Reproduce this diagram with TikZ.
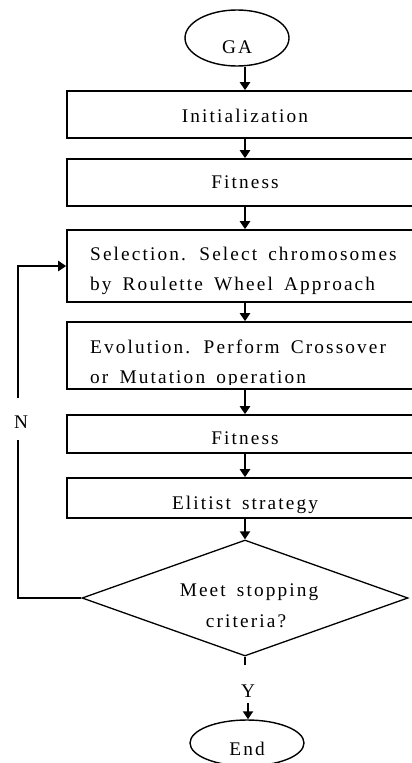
\documentclass[tikz,border=0pt]{standalone}
\usepackage{fontspec}
\setmainfont{Liberation Serif}[LetterSpace=11,WordSpace=1.6]
\usetikzlibrary{arrows.meta,shapes.geometric}
\begin{document}
\begin{tikzpicture}[x=1pt,y=-1pt,
  box/.style={draw,line width=1.6pt,rectangle,minimum width=356pt,inner sep=0pt},
  oval/.style={draw,line width=1.4pt,ellipse,inner sep=0pt},
  lbl/.style={inner sep=0pt,font=\fontsize{19.3}{30}\selectfont},
  arr/.style={line width=2.6pt,-{Triangle[width=10pt,length=8pt]}},
  ln/.style={line width=2.6pt,line join=miter}]
\useasboundingbox (0,0) rectangle (412,763);
\clip (0,0) rectangle (412,763);
% shapes
\node[oval,minimum width=104pt,minimum height=56pt] (ga) at (237,38) {};
\node[box,minimum height=47pt] (init) at (245,114.5) {};
\node[box,minimum height=47pt] (fit1) at (245,182.5) {};
\node[box,minimum height=72pt] (sel) at (245,266) {};
\node[box,minimum height=67pt] (evo) at (245,355.5) {};
\node[box,minimum height=38pt] (fit2) at (245,434) {};
\node[box,minimum height=40pt] (elit) at (245,498) {};
\node[draw,diamond,aspect=2.8,minimum width=326pt,minimum height=116pt,inner sep=0pt,line width=1.3pt] (dec) at (245,598) {};
\node[oval,minimum width=114pt,minimum height=46pt] (endn) at (247,743) {};
% texts
\node[lbl,anchor=base] (gat) at (ga.center |- 0,53) {GA};
\node[lbl,anchor=base] (initt) at (245,122) {Initialization};
\node[lbl,anchor=base] (fit1t) at (245,188) {Fitness};
\node[lbl,anchor=base west] (sela) at (90,260) {Selection. Select chromosomes};
\node[lbl,anchor=base west] (selb) at (90,290) {by Roulette Wheel Approach};
\node[lbl,anchor=base west] (evoa) at (90,353) {Evolution. Perform Crossover};
\begin{scope}
  \clip (67,322) rectangle (423,384);
  \node[lbl,anchor=base west] (evob) at (90,383) {or Mutation operation};
\end{scope}
\node[lbl,anchor=base] (fit2t) at (245,444) {Fitness};
\node[lbl,anchor=base] (elitt) at (245,509) {Elitist strategy};
\node[lbl,anchor=base] (deca) at (249,596) {Meet stopping};
\node[lbl,anchor=base] (decb) at (246,627) {criteria?};
\node[lbl,anchor=base] (endt) at (247,755) {End};
\node[lbl,anchor=base] (n) at (21,428) {N};
\node[lbl,anchor=base] (y) at (248,697) {Y};
% connectors
\draw[arr] (init.north |- ga.south) -- (init.north);
\draw[arr] (init) -- (fit1);
\draw[arr] (fit1) -- (sel);
\draw[arr] (sel) -- (evo);
\draw[arr] (evo) -- (fit2);
\draw[arr] (fit2) -- (elit);
\draw[arr] (elit) -- (dec);
\coordinate (nlo) at (18,440);
\coordinate (nhi) at (18,398);
\draw[ln] (dec.west) -| (nlo);
\draw[arr] (nhi) |- (sel.west);
\coordinate (ystub) at (245,665);
\draw[ln] (dec.south) -- (ystub);
\coordinate (ya) at (248,703);
\draw[arr] (ya) -- (ya |- endn.north);
\end{tikzpicture}
\end{document}
